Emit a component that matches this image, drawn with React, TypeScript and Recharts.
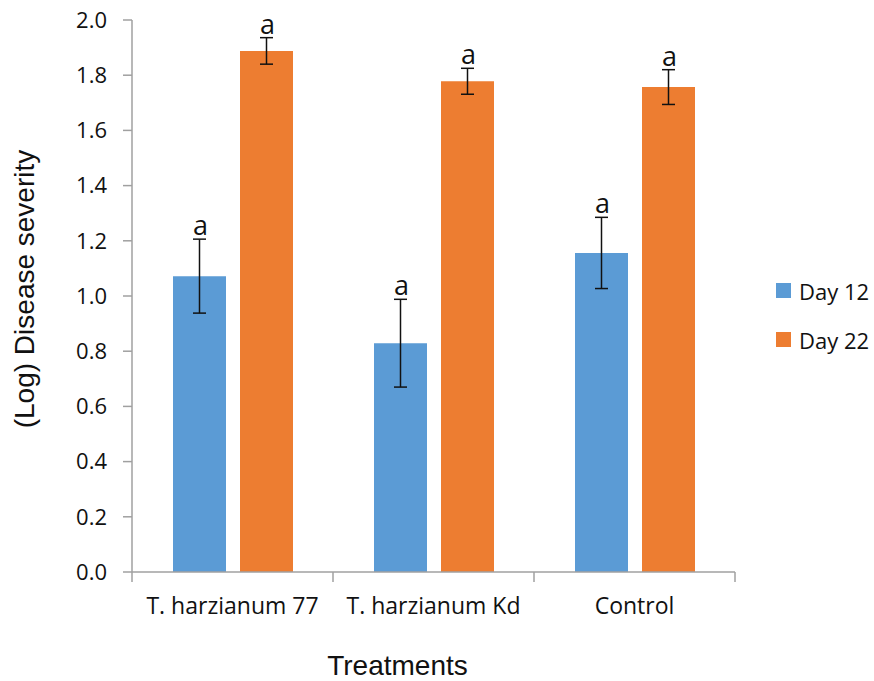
import React from "react";
import { Bar, BarChart, ErrorBar, LabelList, XAxis, YAxis } from "recharts";

const categories = ["T. harzianum 77", "T. harzianum Kd", "Control"];
const day12 = [1.072, 0.829, 1.156];
const day22 = [1.888, 1.778, 1.757];
const day12Err = [0.134, 0.159, 0.129];
const day22Err = [0.048, 0.047, 0.063];
const day12Letters = ["a", "a", "a"];
const day22Letters = ["a", "a", "a"];
const yTicks = [0, 0.2, 0.4, 0.6, 0.8, 1.0, 1.2, 1.4, 1.6, 1.8, 2.0];

const BLUE = "#5B9BD5";
const ORANGE = "#ED7D31";
const AXIS = "#A0A0A0";
const TICK_FONT = "'Open Sans', sans-serif";
const TITLE_FONT = "'Liberation Sans', Arial, sans-serif";
const X_TICK_SIZE = 10;
const X_TICK_MARGIN = 16;

const data = categories.map((name, i) => ({
  name,
  day12: day12[i],
  day22: day22[i],
  day12Err: day12Err[i],
  day22Err: day22Err[i],
}));

// letter drawn just above the top of the error bar
const letterLabel = (errs: number[], letters: string[]) => (props: any) => {
  const { x, y, width, height, value, index } = props;
  const pxPerUnit = Number(height) / Number(value);
  const top = Number(y) - errs[index] * pxPerUnit;
  return (
    <text
      x={Number(x) + Number(width) / 2 + 1}
      y={top - 4}
      textAnchor="middle"
      fontFamily={TICK_FONT}
      fontSize={27}
      fill="#111"
    >
      {letters[index]}
    </text>
  );
};

// category label + tick marks on the category boundaries (Excel style)
const CategoryTick = (props: any) => {
  const { x, y, payload, index } = props;
  const half = payload?.offset ?? 0;
  const axisY = y - X_TICK_SIZE - X_TICK_MARGIN;
  const isLast = index === categories.length - 1;
  return (
    <g>
      <line x1={x - half} y1={axisY} x2={x - half} y2={axisY + X_TICK_SIZE} stroke={AXIS} strokeWidth={1.5} />
      {isLast && (
        <line x1={x + half} y1={axisY} x2={x + half} y2={axisY + X_TICK_SIZE} stroke={AXIS} strokeWidth={1.5} />
      )}
      <text x={x} y={y} dy="0.71em" textAnchor="middle" fontFamily={TICK_FONT} fontSize={23} fill="#111">
        {payload.value}
      </text>
    </g>
  );
};

const yTitle = (props: any) => {
  const vb = props.viewBox || {};
  const cx = vb.x + 34;
  const cy = vb.y + vb.height / 2 - 7;
  return (
    <text
      x={cx}
      y={cy}
      transform={`rotate(-90, ${cx}, ${cy})`}
      textAnchor="middle"
      fontFamily={TITLE_FONT}
      fontSize={28}
      fill="#111"
    >
      (Log) Disease severity
    </text>
  );
};

const xTitle = (props: any) => {
  const vb = props.viewBox || {};
  return (
    <text
      x={vb.x + vb.width / 2 - 36}
      y={675}
      textAnchor="middle"
      fontFamily={TITLE_FONT}
      fontSize={28}
      fill="#111"
    >
      Treatments
    </text>
  );
};

const legendItems = [
  { label: "Day 12", color: BLUE },
  { label: "Day 22", color: ORANGE },
];

const renderLegend = () => (
  <div style={{ fontFamily: TICK_FONT, fontSize: 22, color: "#111" }}>
    {legendItems.map((item) => (
      <div
        key={item.label}
        style={{ display: "flex", alignItems: "center", height: 49 }}
      >
        <span
          style={{
            display: "inline-block",
            width: 15,
            height: 15,
            background: item.color,
            marginRight: 8,
          }}
        />
        <span>{item.label}</span>
      </div>
    ))}
  </div>
);

export default function App() {
  return (
    <div
      style={{
        position: "absolute",
        left: 0,
        top: 0,
        width: 874,
        height: 681,
        background: "#fff",
      }}
    >
      <BarChart
        width={874}
        height={681}
        data={data}
        margin={{ top: 20, right: 139, left: 0, bottom: 0 }}
        barSize={53}
        barGap={14}
      >
        <XAxis
          dataKey="name"
          axisLine={{ stroke: AXIS, strokeWidth: 1.5 }}
          tickLine={{ stroke: "none" }}
          tickSize={X_TICK_SIZE}
          tickMargin={X_TICK_MARGIN}
          tick={<CategoryTick />}
          interval={0}
          height={109}
          label={{ content: xTitle }}
        />
        <YAxis
          domain={[0, 2]}
          ticks={yTicks}
          tickFormatter={(v: number) => v.toFixed(1)}
          axisLine={{ stroke: AXIS, strokeWidth: 1.5 }}
          tickLine={{ stroke: AXIS, strokeWidth: 1.5 }}
          tickSize={9}
          tickMargin={16}
          tick={{ fontFamily: TICK_FONT, fontSize: 22, fill: "#111" }}
          width={132}
          label={{ content: yTitle }}
        />
        <Bar dataKey="day12" name="Day 12" fill={BLUE} isAnimationActive={false}>
          <ErrorBar dataKey="day12Err" width={6.5} stroke="#111" strokeWidth={1.5} />
          <LabelList content={letterLabel(day12Err, day12Letters)} />
        </Bar>
        <Bar dataKey="day22" name="Day 22" fill={ORANGE} isAnimationActive={false}>
          <ErrorBar dataKey="day22Err" width={6.5} stroke="#111" strokeWidth={1.5} />
          <LabelList content={letterLabel(day22Err, day22Letters)} />
        </Bar>
      </BarChart>
      <div style={{ position: "absolute", left: 776, top: 266 }}>{renderLegend()}</div>
    </div>
  );
}
